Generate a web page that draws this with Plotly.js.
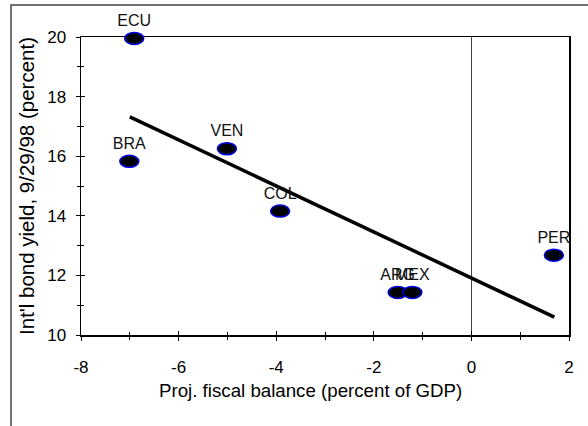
<!DOCTYPE html>
<html>
<head>
<meta charset="utf-8">
<script src="https://cdn.plot.ly/plotly-3.0.1.min.js"></script>
<style>html,body{margin:0;padding:0;background:#fff;}#chart{width:588px;height:426px;}</style>
</head>
<body>
<div id="chart"></div>
<script>
const countries = ["ECU", "BRA", "VEN", "COL", "ARG", "MEX", "PER"];
const fiscalBalance = [-6.91, -7.01, -5.01, -3.92, -1.51, -1.21, 1.69];
const bondYield = [19.95, 15.83, 16.25, 14.16, 11.43, 11.43, 12.68];
const trendX = [-7.0, 1.7];
const trendY = [17.32, 10.6];
const xTicks = [-8, -6, -4, -2, 0, 2];
const xTickLabels = ["-8", "-6", "-4", "-2", "0", "2"];
const yTicks = [10, 12, 14, 16, 18, 20];
const yTickLabels = ["10", "12", "14", "16", "18", "20"];
const xMinor = [-7, -5, -3, -1, 1];
const yMinor = [11, 13, 15, 17, 19];
const xRange = [-8, 2];
const yRange = [10, 20];
const xTitle = "Proj. fiscal balance (percent of GDP)";
const yTitle = "Int'l bond yield, 9/29/98 (percent)";

const font = "Liberation Sans, Arial, sans-serif";

const traces = [
  {
    x: trendX, y: trendY, mode: "lines", type: "scatter",
    line: {color: "#000", width: 3.5}, hoverinfo: "skip", showlegend: false
  },
  {
    x: fiscalBalance, y: bondYield, text: countries,
    mode: "markers+text", type: "scatter", textposition: "top center",
    textfont: {family: font, size: 16, color: "#111"},
    marker: {size: 12, color: "#000", line: {width: 0}},
    cliponaxis: false, showlegend: false
  },
  {
    x: [], y: [], xaxis: "x2", yaxis: "y2", type: "scatter", mode: "markers", showlegend: false
  }
];

// elliptical point markers, anchored on the x axis and the plot's vertical fraction
const ellipses = fiscalBalance.map((xv, i) => ({
  type: "circle", xref: "x", yref: "paper",
  xsizemode: "pixel", ysizemode: "pixel",
  xanchor: xv, yanchor: (bondYield[i] - yRange[0]) / (yRange[1] - yRange[0]),
  x0: -9.5, x1: 9.5, y0: -6, y1: 6,
  fillcolor: "#000", line: {color: "#0000e0", width: 1.5}, layer: "above"
}));

const baseX = {range: xRange, tickvals: xTicks, ticktext: xTickLabels, showgrid: false, fixedrange: true};
const baseY = {range: yRange, tickvals: yTicks, ticktext: yTickLabels, showgrid: false, fixedrange: true};

const layout = {
  width: 588, height: 426,
  margin: {l: 81, r: 19, t: 37, b: 91},
  paper_bgcolor: "#fff", plot_bgcolor: "#fff",
  showlegend: false,
  font: {family: font, size: 17, color: "#000"},
  xaxis: Object.assign({}, baseX, {
    showline: true, linecolor: "#000", linewidth: 1.5, mirror: true,
    zeroline: true, zerolinecolor: "#444", zerolinewidth: 1.3,
    ticks: "outside", ticklen: 4, tickwidth: 1, tickcolor: "#000",
    minor: {tickvals: xMinor, ticks: "outside", ticklen: 3, tickcolor: "#000"},
    ticklabelstandoff: 12,
    tickfont: {family: font, size: 17, color: "#000"}
  }),
  yaxis: Object.assign({}, baseY, {
    showline: true, linecolor: "#000", linewidth: 1.5, mirror: true,
    zeroline: false,
    ticks: "outside", ticklen: 4, tickwidth: 1, tickcolor: "#000",
    minor: {tickvals: yMinor, ticks: "outside", ticklen: 3, tickcolor: "#000"},
    ticklabelstandoff: 6,
    tickfont: {family: font, size: 17, color: "#000"},
    title: {text: yTitle, standoff: 7, font: {family: font, size: 20.5, color: "#000"}}
  }),
  xaxis2: Object.assign({}, baseX, {
    overlaying: "x", anchor: "y2", showline: false, zeroline: false,
    ticks: "inside", ticklen: 4, tickcolor: "#000", showticklabels: false,
    minor: {tickvals: xMinor, ticks: "inside", ticklen: 3, tickcolor: "#000"}
  }),
  yaxis2: Object.assign({}, baseY, {
    overlaying: "y", anchor: "x2", showline: false, zeroline: false,
    ticks: "inside", ticklen: 4, tickcolor: "#000", showticklabels: false,
    minor: {tickvals: yMinor, ticks: "inside", ticklen: 3, tickcolor: "#000"}
  }),
  annotations: [
    {text: xTitle, xref: "paper", yref: "paper", x: 0.4703, y: 0, xanchor: "center", yanchor: "top",
     yshift: -43, showarrow: false, font: {family: font, size: 18.7, color: "#000"}}
  ],
  shapes: [
    {type: "rect", xref: "paper", yref: "paper", x0: -0.1434, x1: 1.2, y0: -0.5, y1: 1.107,
     line: {color: "#444", width: 1.5}, fillcolor: "rgba(0,0,0,0)", layer: "below"}
  ].concat(ellipses)
};

Plotly.newPlot("chart", traces, layout, {staticPlot: true, displayModeBar: false});
</script>
</body>
</html>
